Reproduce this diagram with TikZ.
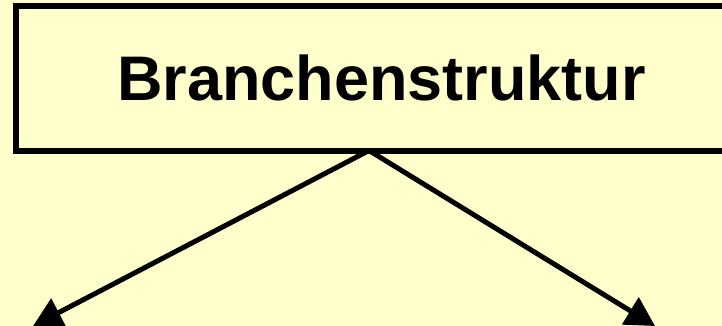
\documentclass[tikz,border=0pt]{standalone}
\usepackage{fontspec}
\setmainfont{Liberation Sans}
\usetikzlibrary{arrows.meta}

\definecolor{hellgelb}{RGB}{255,255,204}

\begin{document}
\begin{tikzpicture}[x=1pt,y=1pt,yscale=-1,xscale=1,
  kasten/.style={draw=black,line width=6pt,fill=hellgelb,rectangle,inner sep=0pt,
    minimum width=731pt,minimum height=144.5pt,font=\fontsize{63}{63}\selectfont\bfseries},
  pfeil/.style={line width=5pt,-{Triangle[length=29pt,width=31pt]}}]
%Background
\fill [hellgelb] (0,0) rectangle (722,326) ;
\useasboundingbox (0,0) rectangle (722,326) ;

%Arrow ends
\coordinate (fork) at (369,150.5) ;
\coordinate (links) at (33,326) ;
\coordinate (rechts) at (655,326) ;

%Straight Lines
\draw [pfeil] (fork) -- (links) ;
\draw [pfeil] (fork) -- (rechts) ;

% Text Node
\node [kasten] (branche) at (381.5,78.25) {Branchenstruktur};

\end{tikzpicture}
\end{document}
